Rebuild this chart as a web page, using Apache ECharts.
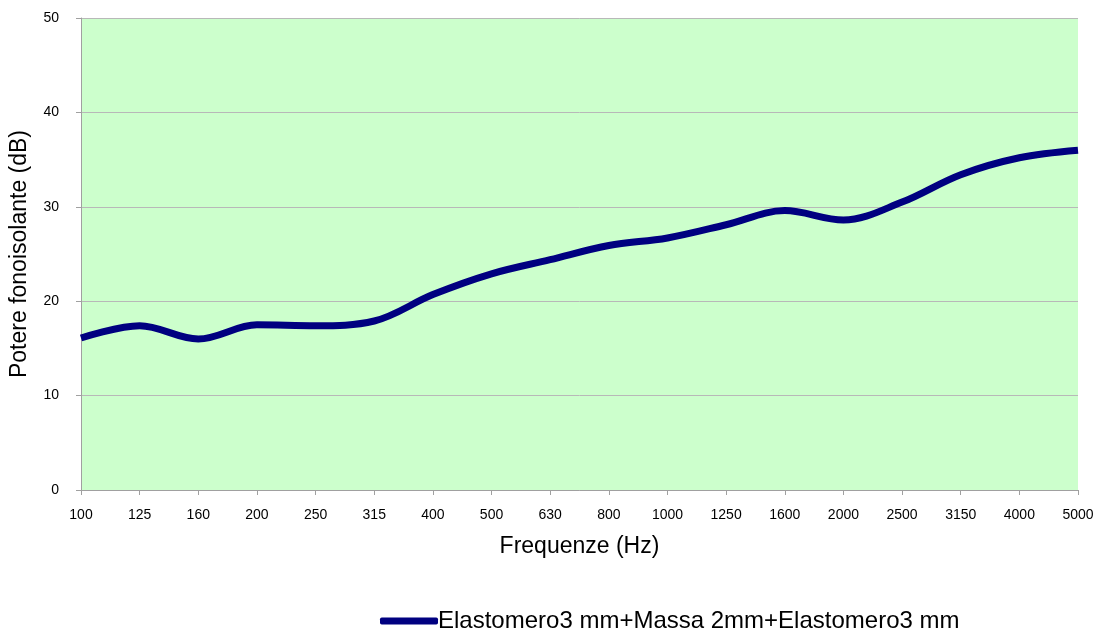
<!DOCTYPE html>
<html>
<head>
    <meta charset="utf-8">
    <title>Potere fonoisolante</title>
    <script src="https://cdn.jsdelivr.net/npm/echarts@6/dist/echarts.min.js"></script>
    <style>
        html, body { margin: 0; padding: 0; background: #fff; }
    </style>
</head>
<body>
<div id="main" style="width: 1097px; height: 628px;"></div>
<script type="text/javascript">
// frequenze (Hz)
var frequenze = ['100', '125', '160', '200', '250', '315', '400', '500', '630', '800',
                 '1000', '1250', '1600', '2000', '2500', '3150', '4000', '5000'];
// potere fonoisolante (dB)
var valori = [16.1, 17.4, 16.0, 17.5, 17.4, 17.9, 20.7, 22.9, 24.4, 25.9,
              26.7, 28.1, 29.6, 28.6, 30.5, 33.4, 35.2, 36.0];
var nomeSerie = 'Elastomero3 mm+Massa 2mm+Elastomero3 mm';
var tickY = [0, 10, 20, 30, 40, 50];

var myChart = echarts.init(document.getElementById('main'));

var font = 'Arial, "Liberation Sans", sans-serif';

var option = {
    animation: false,
    textStyle: { fontFamily: font },
    grid: {
        left: 80,
        top: 18,
        width: 998,
        height: 472,
        show: true,
        backgroundColor: '#CCFFCC',
        borderWidth: 0
    },
    legend: {
        top: 604,
        left: 375,
        itemWidth: 58,
        itemHeight: 7,
        itemGap: 0,
        icon: 'roundRect',
        textStyle: { fontSize: 24, color: '#000', fontFamily: font, padding: [0, 0, 0, -5] },
        data: [{ name: nomeSerie, itemStyle: { color: '#000080' } }]
    },
    xAxis: {
        type: 'category',
        boundaryGap: false,
        data: frequenze,
        name: 'Frequenze (Hz)',
        nameLocation: 'middle',
        nameGap: 45,
        nameTextStyle: { fontSize: 23, color: '#000', fontFamily: font },
        axisLine: { lineStyle: { color: '#a0a0a0', width: 1 } },
        axisTick: { show: true, interval: 0, length: 5, lineStyle: { color: '#a0a0a0' } },
        axisLabel: { interval: 0, color: '#000', fontSize: 14, margin: 18, fontFamily: font },
        splitLine: { show: false }
    },
    yAxis: {
        type: 'value',
        min: 0,
        max: 50,
        interval: 10,
        name: 'Potere fonoisolante (dB)',
        nameLocation: 'middle',
        nameGap: 50,
        nameTextStyle: { fontSize: 23, color: '#000', fontFamily: font },
        axisLine: { show: true, lineStyle: { color: '#a0a0a0', width: 1 } },
        axisTick: { show: true, length: 5, lineStyle: { color: '#a0a0a0' } },
        axisLabel: { color: '#000', fontSize: 14, margin: 22, fontFamily: font,
            formatter: function (v) { return tickY.indexOf(v) >= 0 ? String(v) : ''; } },
        splitLine: { show: true, lineStyle: { color: '#b8b8b8', width: 1 } }
    },
    series: [
        {
            name: nomeSerie,
            type: 'line',
            smooth: 0.35,
            symbol: 'none',
            lineStyle: { color: '#000080', width: 7, cap: 'butt' },
            itemStyle: { color: '#000080' },
            data: valori
        }
    ]
};

myChart.setOption(option);
</script>
</body>
</html>
